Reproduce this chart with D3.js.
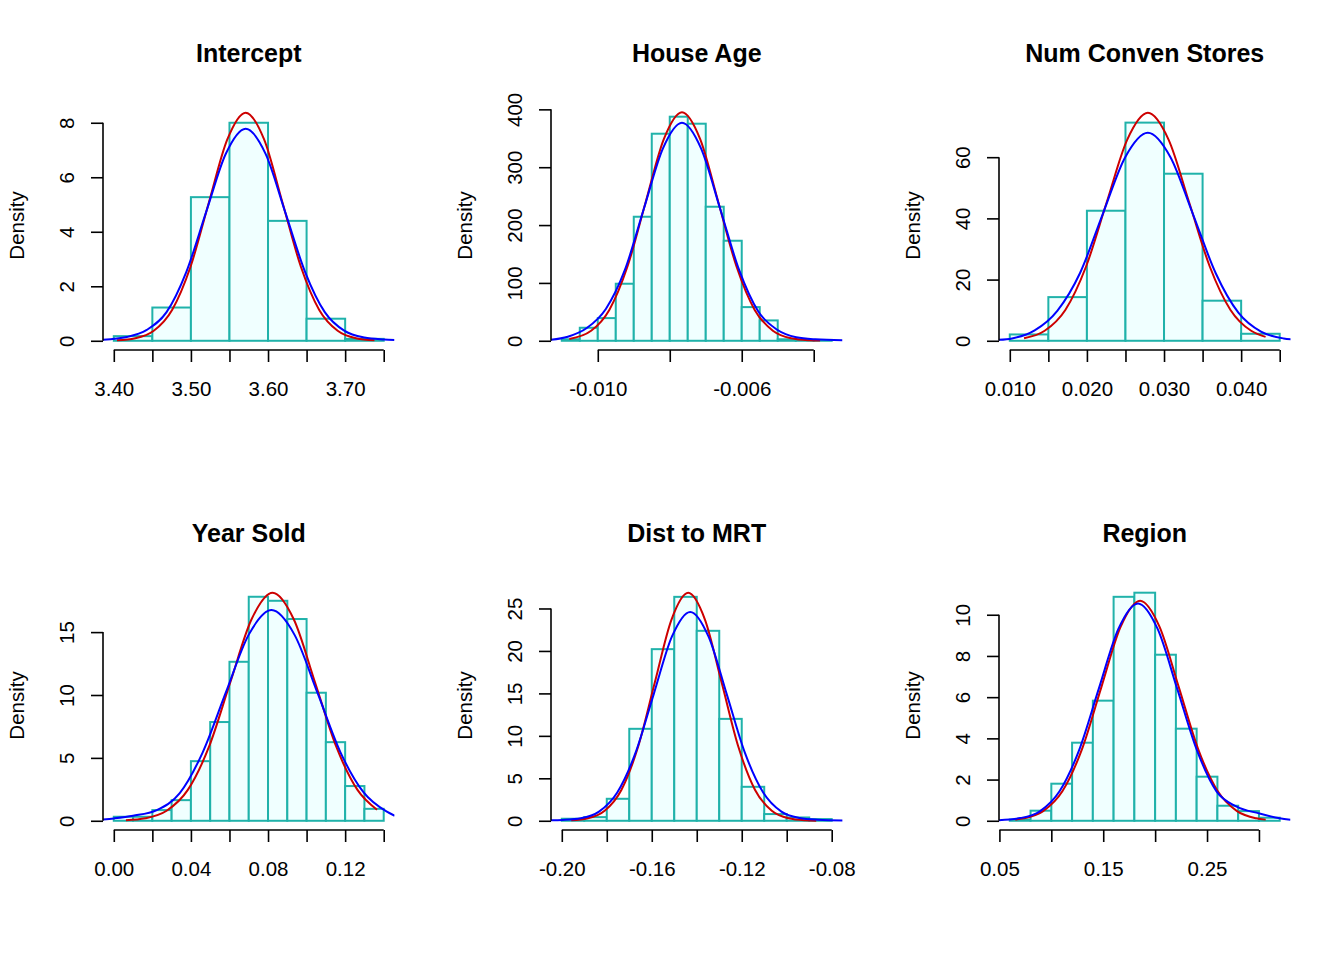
<!DOCTYPE html>
<html>
<head>
<meta charset="utf-8">
<script src="https://cdn.jsdelivr.net/npm/d3@7"></script>
<style>
  body { margin: 0; background: #fff; }
  svg text { font-family: "Liberation Sans", Arial, sans-serif; fill: #000; }
</style>
</head>
<body>
<div id="chart"></div>
<script>
// panel titles (R hist main)
var titles = ["Intercept", "House Age", "Num Conven Stores", "Year Sold", "Dist to MRT", "Region"];

// histogram breaks: first break and bin width, then the bar densities
var binStart = [3.40, -0.0110, 0.010, 0.00, -0.20, 0.06];
var binWidth = [0.05, 0.0005, 0.005, 0.01, 0.01, 0.02];
var histDensity = [
  [0.17, 1.22, 5.27, 8.0, 4.40, 0.81, 0.07],
  [2.6, 22.5, 39.2, 98.6, 214.4, 357.9, 387.3, 375.2, 231.7, 172.9, 58.2, 35.2, 2.6, 1.4, 1.4],
  [2.07, 14.27, 42.5, 71.3, 54.6, 13.1, 2.29],
  [0.32, 0.32, 0.85, 1.64, 4.74, 7.85, 12.64, 17.81, 17.49, 16.04, 10.18, 6.25, 2.76, 0.95],
  [0.24, 0.43, 2.59, 10.83, 20.21, 26.37, 22.37, 12.0, 4.0, 0.79, 0.39, 0.2],
  [0.06, 0.49, 1.80, 3.79, 5.83, 10.87, 11.07, 8.06, 4.47, 2.14, 0.73, 0.47, 0.15]
];

// upper y limit of each panel
var yMax = [8.46, 398.5, 75.35, 18.33, 27.15, 11.19];

var yTicks = [
  [0, 2, 4, 6, 8],
  [0, 100, 200, 300, 400],
  [0, 20, 40, 60],
  [0, 5, 10, 15],
  [0, 5, 10, 15, 20, 25],
  [0, 2, 4, 6, 8, 10]
];

var xTicks = [
  [3.40, 3.45, 3.50, 3.55, 3.60, 3.65, 3.70, 3.75],
  [-0.010, -0.008, -0.006, -0.004],
  [0.010, 0.015, 0.020, 0.025, 0.030, 0.035, 0.040, 0.045],
  [0.00, 0.02, 0.04, 0.06, 0.08, 0.10, 0.12, 0.14],
  [-0.20, -0.18, -0.16, -0.14, -0.12, -0.10, -0.08],
  [0.05, 0.10, 0.15, 0.20, 0.25, 0.30]
];
var xTickLabels = [
  ["3.40", "", "3.50", "", "3.60", "", "3.70", ""],
  ["-0.010", "", "-0.006", ""],
  ["0.010", "", "0.020", "", "0.030", "", "0.040", ""],
  ["0.00", "", "0.04", "", "0.08", "", "0.12", ""],
  ["-0.20", "", "-0.16", "", "-0.12", "", "-0.08"],
  ["0.05", "", "0.15", "", "0.25", ""]
];

// red density curve
var redX = [
  [3.4041, 3.4279, 3.4518, 3.4756, 3.4995, 3.5233, 3.5472, 3.571, 3.5949, 3.6187, 3.6426, 3.6664, 3.6903, 3.7141, 3.738],
  [-0.010791, -0.010185, -0.00968, -0.009175, -0.00867, -0.008165, -0.00766, -0.007155, -0.00665, -0.006145, -0.00564, -0.005135, -0.00463, -0.004125, -0.003822],
  [0.011848, 0.014525, 0.017202, 0.019879, 0.022556, 0.025233, 0.02791, 0.030587, 0.033264, 0.035941, 0.038618, 0.041295, 0.043169],
  [0.00628, 0.0164, 0.0274, 0.0384, 0.0494, 0.0604, 0.0714, 0.0824, 0.0934, 0.1044, 0.1154, 0.1264, 0.13652],
  [-0.1958, -0.18837, -0.18094, -0.17351, -0.16608, -0.15865, -0.15122, -0.14379, -0.13636, -0.12893, -0.1215, -0.11407, -0.10664, -0.09921, -0.09178, -0.08688],
  [0.06523, 0.07345, 0.09213, 0.1108, 0.12948, 0.14815, 0.16683, 0.1855, 0.20418, 0.22285, 0.24153, 0.2602, 0.27888, 0.29755, 0.30651]
];
var redY = [
  [0.018, 0.093, 0.368, 1.133, 2.718, 5.076, 7.387, 8.37, 7.387, 5.076, 2.718, 1.133, 0.368, 0.093, 0.018],
  [3.2, 17.4, 53.4, 128.3, 239.6, 348.6, 395, 348.6, 239.6, 128.3, 53.4, 17.4, 4.4, 0.9, 0.3],
  [0.83, 3.27, 10.08, 24.19, 45.18, 65.75, 74.5, 65.75, 45.18, 24.19, 10.08, 3.27, 1.28],
  [0.045, 0.201, 0.797, 2.453, 5.887, 10.996, 16.0, 18.13, 16.0, 10.996, 5.887, 2.453, 0.88],
  [0.059, 0.298, 1.179, 3.631, 8.715, 16.28, 23.69, 26.84, 23.69, 16.28, 8.715, 3.631, 1.179, 0.298, 0.059, 0.017],
  [0.060, 0.119, 0.469, 1.445, 3.468, 6.477, 9.425, 10.68, 9.425, 6.477, 3.468, 1.445, 0.469, 0.119, 0.056]
];

// blue density curve, spans the whole plot width
var blueX = [
  [3.386, 3.4171, 3.4428, 3.4684, 3.4941, 3.5197, 3.5454, 3.571, 3.5967, 3.6223, 3.648, 3.6736, 3.6993, 3.7249, 3.7506, 3.764],
  [-0.0113, -0.010834, -0.010305, -0.009776, -0.009247, -0.008718, -0.008189, -0.00766, -0.007131, -0.006602, -0.006073, -0.005544, -0.005015, -0.004486, -0.003957, -0.0032],
  [0.00857, 0.01029, 0.013225, 0.01616, 0.019095, 0.02203, 0.024965, 0.0279, 0.030835, 0.03377, 0.036705, 0.03964, 0.042575, 0.04551, 0.04663],
  [-0.0057, 0.0, 0.01, 0.02231, 0.03421, 0.04612, 0.05803, 0.06994, 0.08185, 0.09376, 0.10567, 0.11758, 0.12949, 0.1414, 0.1457],
  [-0.20502, -0.19967, -0.19156, -0.18345, -0.17534, -0.16723, -0.15912, -0.15101, -0.1429, -0.13479, -0.12668, -0.11857, -0.11046, -0.10235, -0.09424, -0.08613, -0.0751],
  [0.0496, 0.07007, 0.08898, 0.1079, 0.12679, 0.14569, 0.1646, 0.1835, 0.2024, 0.22131, 0.24022, 0.25912, 0.27803, 0.30, 0.32, 0.3304]
];
var blueY = [
  [0.04, 0.14, 0.40, 1.05, 2.53, 4.72, 6.87, 7.78, 6.87, 4.72, 2.53, 1.05, 0.36, 0.12, 0.05, 0.03],
  [1.7, 7, 22, 55, 122.4, 228.6, 332.7, 377, 332.7, 228.6, 122.4, 51, 19, 6, 2.5, 1.0],
  [0.30, 0.76, 3.4, 9.8, 22.08, 41.24, 60.01, 68, 60.01, 41.24, 22.08, 9.20, 2.99, 0.76, 0.42],
  [0.10, 0.19, 0.40, 0.85, 2.2, 5.44, 10.16, 14.78, 16.75, 14.78, 10.16, 5.44, 2.27, 0.74, 0.40],
  [0.05, 0.10, 0.30, 1.08, 3.33, 7.99, 14.92, 21.71, 24.6, 21.71, 14.92, 7.99, 3.33, 1.08, 0.33, 0.12, 0.03],
  [0.03, 0.13, 0.46, 1.43, 3.43, 6.40, 9.31, 10.55, 9.31, 6.40, 3.43, 1.43, 0.70, 0.36, 0.12, 0.05]
];

var panelW = 448, panelH = 480;
var margin = {top: 101, right: 53.5, bottom: 130, left: 103},
    width = panelW - margin.left - margin.right,
    height = panelH - margin.top - margin.bottom;

var svg = d3.select("#chart").append("svg")
    .attr("width", 1344)
    .attr("height", 960)
    .style("background", "#fff");

titles.forEach(function(title, i) {
  var col = i % 3, row = Math.floor(i / 3);
  var g = svg.append("g")
      .attr("transform", "translate(" + (col * panelW + margin.left) + "," + (row * panelH + margin.top) + ")");

  var dens = histDensity[i];
  var lo = binStart[i], hi = binStart[i] + dens.length * binWidth[i];
  var pad = 0.04 * (hi - lo);

  var x = d3.scaleLinear().domain([lo - pad, hi + pad]).range([0, width]);
  var y = d3.scaleLinear().domain([-0.04 * yMax[i], 1.04 * yMax[i]]).range([height, 0]);

  g.append("clipPath").attr("id", "clip" + i)
    .append("rect").attr("width", width).attr("height", height);

  // bars
  g.selectAll(".bar")
      .data(dens)
    .enter().append("rect")
      .attr("class", "bar")
      .attr("x", function(d, j) { return x(lo + j * binWidth[i]); })
      .attr("y", function(d) { return y(d); })
      .attr("width", function(d, j) { return x(lo + (j + 1) * binWidth[i]) - x(lo + j * binWidth[i]); })
      .attr("height", function(d) { return y(0) - y(d); })
      .attr("fill", "#F0FFFF")
      .attr("stroke", "#20B2AA")
      .attr("stroke-width", 2);

  var line = d3.line()
      .x(function(d) { return x(d[0]); })
      .y(function(d) { return y(d[1]); })
      .curve(d3.curveMonotoneX);

  var curves = g.append("g").attr("clip-path", "url(#clip" + i + ")");
  curves.append("path")
      .datum(d3.zip(redX[i], redY[i]))
      .attr("d", line)
      .attr("fill", "none")
      .attr("stroke", "#CD0000")
      .attr("stroke-width", 2);
  curves.append("path")
      .datum(d3.zip(blueX[i], blueY[i]))
      .attr("d", line)
      .attr("fill", "none")
      .attr("stroke", "#0000FF")
      .attr("stroke-width", 2);

  // x axis, line only from first to last tick like base R
  var xt = xTicks[i];
  var xAxis = d3.axisBottom(x)
      .tickValues(xt)
      .tickFormat(function(d, k) { return xTickLabels[i][k]; })
      .tickSize(12)
      .tickSizeOuter(0);
  var gx = g.append("g")
      .attr("transform", "translate(0," + height + ")")
      .call(xAxis)
      .attr("font-family", null)
      .attr("font-size", null);
  gx.select(".domain").remove();
  gx.append("line")
      .attr("x1", x(xt[0])).attr("x2", x(xt[xt.length - 1]))
      .attr("stroke", "#000").attr("stroke-width", 1.6);
  gx.selectAll(".tick line").attr("stroke", "#000").attr("stroke-width", 1.6);
  gx.selectAll(".tick text")
      .attr("y", 46)
      .attr("dy", null)
      .style("font-size", "20.5px");

  // y axis, labels parallel to the axis
  var yt = yTicks[i];
  var yAxis = d3.axisLeft(y)
      .tickValues(yt)
      .tickSize(12)
      .tickSizeOuter(0);
  var gy = g.append("g")
      .call(yAxis)
      .attr("font-family", null)
      .attr("font-size", null);
  gy.select(".domain").remove();
  gy.append("line")
      .attr("y1", y(yt[0])).attr("y2", y(yt[yt.length - 1]))
      .attr("stroke", "#000").attr("stroke-width", 1.6);
  gy.selectAll(".tick line").attr("stroke", "#000").attr("stroke-width", 1.6);
  gy.selectAll(".tick text")
      .attr("x", null)
      .attr("dy", null)
      .attr("text-anchor", "middle")
      .attr("transform", "translate(-29,0) rotate(-90)")
      .style("font-size", "20.5px");

  g.append("text")
      .attr("transform", "translate(-79.5," + (height / 2) + ") rotate(-90)")
      .attr("text-anchor", "middle")
      .style("font-size", "20.5px")
      .text("Density");

  g.append("text")
      .attr("x", width / 2)
      .attr("y", -39.3)
      .attr("text-anchor", "middle")
      .style("font-size", "25px")
      .style("font-weight", "bold")
      .text(title);
});
</script>
</body>
</html>
